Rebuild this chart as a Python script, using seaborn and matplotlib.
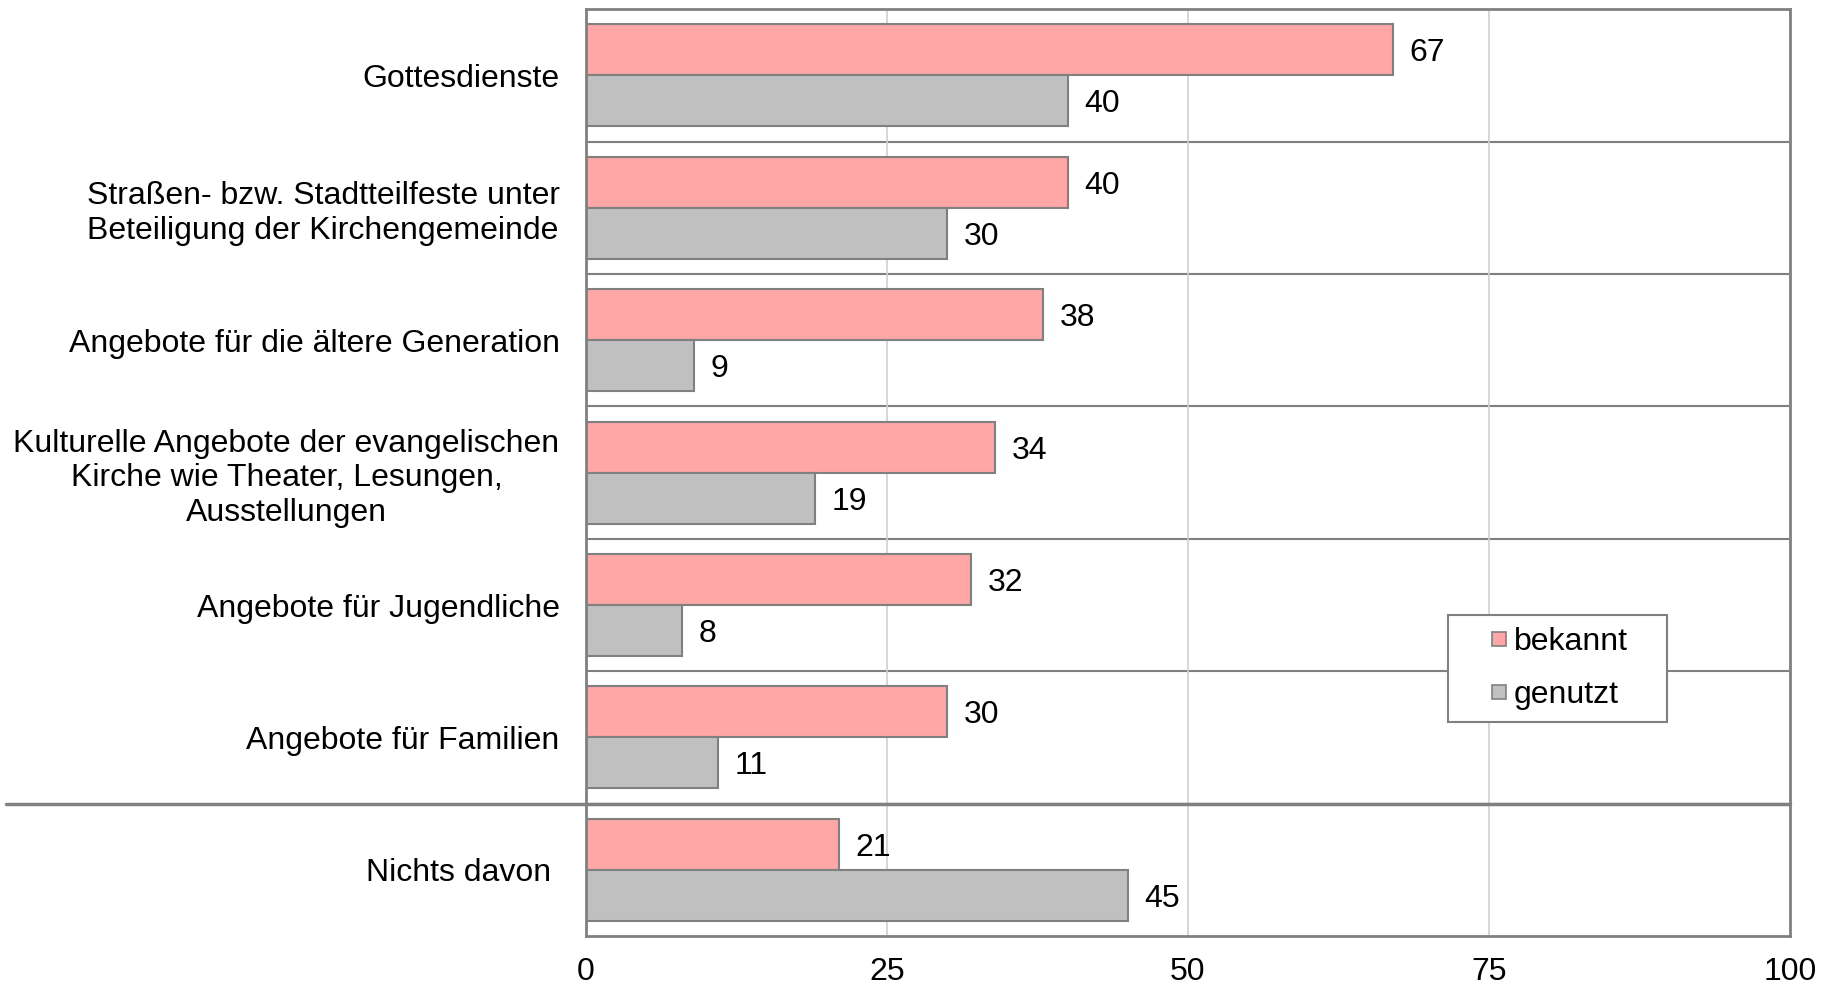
import pandas as pd
import matplotlib.pyplot as plt
import seaborn as sns
from matplotlib.lines import Line2D

# Data
categories = [
    "Gottesdienste",
    "Straßen- bzw. Stadtteilfeste unter\nBeteiligung der Kirchengemeinde",
    "Angebote für die ältere Generation",
    "Kulturelle Angebote der evangelischen\nKirche wie Theater, Lesungen,\nAusstellungen",
    "Angebote für Jugendliche",
    "Angebote für Familien",
    "Nichts davon ",
]
bekannt = [67, 40, 38, 34, 32, 30, 21]
genutzt = [40, 30, 9, 19, 8, 11, 45]
series = ["bekannt", "genutzt"]
colors = ["#FFA6A6", "#C0C0C0"]
x_ticks = [0, 25, 50, 75, 100]

df = pd.DataFrame({
    "Kategorie": categories * 2,
    "Wert": bekannt + genutzt,
    "Serie": [series[0]] * len(categories) + [series[1]] * len(categories),
})

sns.set_style("white")
plt.rcParams["font.family"] = ["Liberation Sans", "DejaVu Sans"]
plt.rcParams["text.color"] = "black"

FS = 23
edge = "#808080"

fig = plt.figure(figsize=(18.31, 9.86), dpi=100)
ax = fig.add_axes([0.320, 0.0507, 0.6576, 0.9399])

sns.barplot(data=df, y="Kategorie", x="Wert", hue="Serie", orient="h",
            palette=colors, width=0.77, edgecolor=edge,
            linewidth=1.5, ax=ax, errorbar=None, saturation=1, legend=False)

# value labels right of each bar, nudged slightly down
for cont in ax.containers:
    for t in ax.bar_label(cont, fmt="%d", padding=12, fontsize=FS, color="black"):
        t.xyann = (12, -2.5)

ax.set_xlim(0, 100)
ax.set_ylim(len(categories) - 0.5, -0.5)
ax.set_xticks(x_ticks)
ax.tick_params(axis="x", length=4, color="#A0A0A0", labelsize=FS, pad=11,
               direction="out", labelcolor="black")
ax.tick_params(axis="y", which="major", length=0, labelsize=FS, pad=19, labelcolor="black")
ax.set_yticks([i + 0.5 for i in range(-1, len(categories))], minor=True)
ax.tick_params(axis="y", which="minor", length=5, color="#A0A0A0", direction="out")
for lbl in ax.get_yticklabels():
    lbl.set_multialignment("center")
    lbl.set_linespacing(1.2)
ax.set_xlabel("")
ax.set_ylabel("")

ax.grid(axis="x", color="#D0D0D0", linewidth=1.2)
ax.set_axisbelow(True)
for y in range(len(categories) - 1):
    ax.axhline(y + 0.5, color=edge, linewidth=1.5, zorder=0.5)

for s in ax.spines.values():
    s.set_color(edge)
    s.set_linewidth(2)
    s.set_visible(True)

# Thicker separator before "Nichts davon", reaching into the label area
y_sep = len(categories) - 1.5
pos = ax.get_position()
x_start = (6 - pos.x0 * 1831) / (pos.width * 1831)
ax.add_line(Line2D([x_start, 1], [y_sep, y_sep], transform=ax.get_yaxis_transform(),
                   color=edge, linewidth=2.5, clip_on=False, zorder=3))

handles = [Line2D([], [], linestyle="none", marker="s", markersize=10.5,
                  markerfacecolor=c, markeredgecolor=edge, markeredgewidth=1.2)
           for c in colors]
leg = ax.legend(handles, series, loc="upper left",
                bbox_to_anchor=(0.716, 0.0, 0.182, 0.346), mode="expand",
                fontsize=FS, frameon=True, fancybox=False, edgecolor=edge,
                handlelength=2.4, handletextpad=-0.72, labelspacing=0.7,
                borderpad=0.38, borderaxespad=0)
leg.get_frame().set_linewidth(1.5)
leg.get_frame().set_alpha(1)

fig.savefig("out.png", dpi=100)
